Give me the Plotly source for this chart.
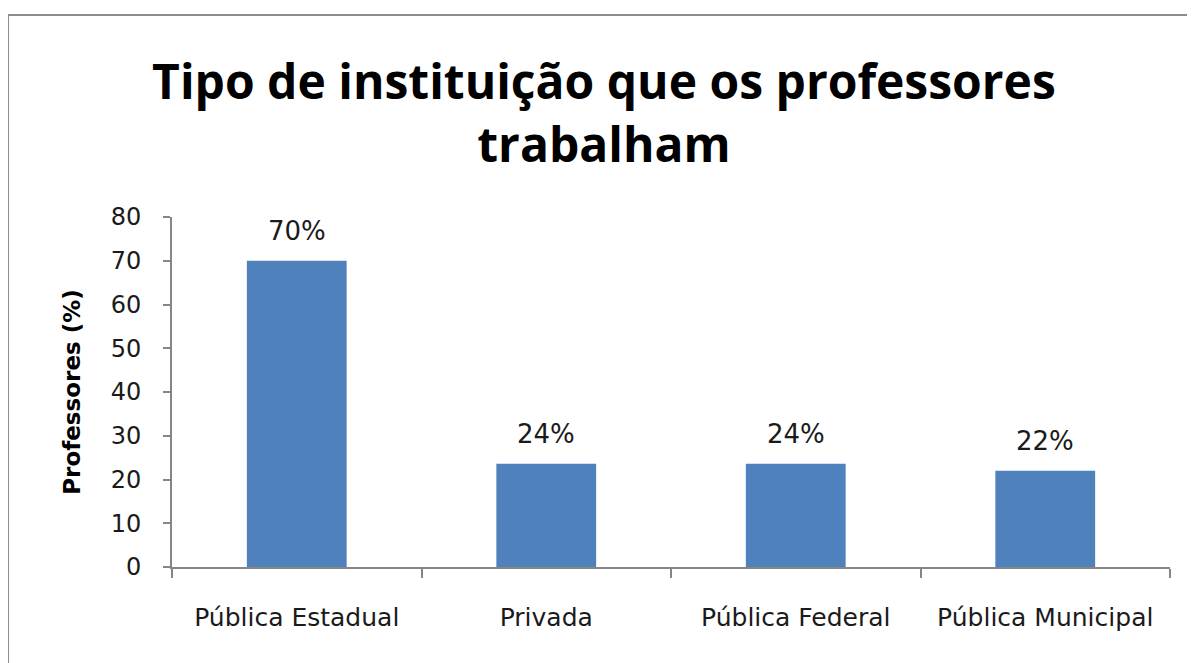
import plotly.graph_objects as go

categories = ["Pública Estadual", "Privada", "Pública Federal", "Pública Municipal"]
values = [70, 23.6, 23.6, 22]
labels = ["70%", "24%", "24%", "22%"]
y_ticks = [0, 10, 20, 30, 40, 50, 60, 70, 80]

FONT = "DejaVu Sans"
TFONT = "Open Sans"
TXT = "#1a1a1a"
AX = "#868686"

fig = go.Figure()
fig.add_trace(go.Bar(
    x=categories, y=values,
    marker=dict(color="#4F81BD", line=dict(width=0)),
    width=0.4,
    hoverinfo="skip",
))

for c, v, t in zip(categories, values, labels):
    fig.add_annotation(x=c, y=v, text=t, showarrow=False, yshift=30,
                       font=dict(family=FONT, size=26, color=TXT))

fig.update_layout(
    width=1195, height=663,
    margin=dict(l=164, r=33, t=209, b=104),
    paper_bgcolor="white", plot_bgcolor="white",
    showlegend=False,
    title=dict(
        text="<b>Tipo de instituição que os professores<br>trabalham</b>",
        x=0.4987, xanchor="center", y=0.862, yanchor="middle",
        font=dict(family=TFONT, size=48, color="black"),
    ),
    xaxis=dict(
        type="category",
        showline=True, linecolor=AX, linewidth=2,
        ticks="outside", tickson="boundaries", ticklen=9, tickcolor=AX, tickwidth=2,
        showgrid=False, zeroline=False,
        tickfont=dict(family=FONT, size=25, color=TXT),
        ticklabelstandoff=27,
    ),
    yaxis=dict(
        range=[0, 80], tickvals=y_ticks,
        showline=True, linecolor=AX, linewidth=2,
        ticks="outside", ticklen=7, tickcolor=AX, tickwidth=2,
        showgrid=False, zeroline=False,
        tickfont=dict(family=FONT, size=24, color=TXT),
        ticklabelstandoff=17,
        title=dict(text="<b>Professores (%)</b>", standoff=24,
                   font=dict(family=FONT, size=23, color="black")),
    ),
    shapes=[dict(type="rect", xref="paper", yref="paper",
                 x0=-0.1643, x1=1.1, y0=-1.0, y1=1.577,
                 line=dict(color="#8c8c8c", width=2), fillcolor="rgba(0,0,0,0)",
                 layer="below")],
)

fig.write_html("out.html")
